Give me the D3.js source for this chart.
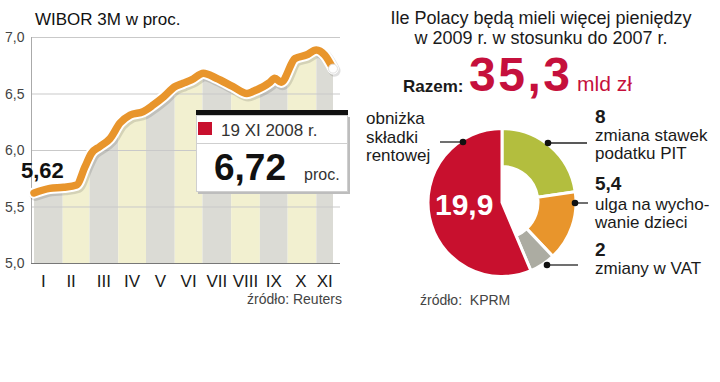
<!DOCTYPE html>
<html><head><meta charset="utf-8">
<script src="https://cdn.jsdelivr.net/npm/d3@7"></script>
<style>
html,body{margin:0;padding:0;background:#fff;}
svg{display:block;font-family:"Liberation Sans",Arial,sans-serif;}
</style></head>
<body>
<svg id="c" width="720" height="382"></svg>
<script>
// ---------- DATA ----------
const monthLabels = ["I","II","III","IV","V","VI","VII","VIII","IX","X","XI"];
const wiborDates = ["2008-01-01","2008-01-18","2008-02-02","2008-02-16","2008-02-25","2008-03-03",
  "2008-03-12","2008-03-23","2008-04-03","2008-04-14","2008-04-28","2008-05-09","2008-05-20",
  "2008-06-01","2008-06-10","2008-06-19","2008-07-02","2008-07-16","2008-08-03","2008-08-18",
  "2008-08-25","2008-09-12","2008-09-17","2008-09-24","2008-10-09","2008-10-21","2008-11-01",
  "2008-11-10","2008-11-19"];
const wiborValues = [5.62,5.66,5.67,5.69,5.85,5.97,6.03,6.10,6.24,6.31,6.34,6.40,6.47,
  6.56,6.59,6.62,6.68,6.635,6.56,6.50,6.52,6.60,6.635,6.60,6.81,6.84,6.885,6.84,6.72];
const yTicks = [5.0,5.5,6.0,6.5,7.0];
const startLabel = "5,62";
const lastDateLabel = "19 XI 2008 r.";
const lastValueLabel = "6,72";

const pieNames = ["zmiana stawek PIT","ulga na wychowanie dzieci","zmiany w VAT","obniżka składki rentowej"];
const pieValues = [8, 5.4, 2, 19.9];
const totalLabel = "35,3";

// ---------- LINE CHART ----------
const svg = d3.select("#c");
const parse = d3.timeParse("%Y-%m-%d");
const pts = wiborDates.map((d,i)=>({date:parse(d), v:wiborValues[i]}));
const t0 = pts[0].date, t1 = pts[pts.length-1].date;

const x = d3.scaleTime().domain([t0,t1]).range([34,333]);
const y = d3.scaleLinear().domain([5,7]).range([263,37]);

const g = svg.append("g");

const monthStarts = d3.timeMonth.range(d3.timeMonth.floor(t0), t1);
const cols = monthStarts.map((m,i)=>{
  const e = i<monthStarts.length-1 ? monthStarts[i+1] : t1;
  return {s:m, e:e, label:monthLabels[i], i:i};
});

const area = d3.area().x(d=>x(d.date)).y0(y(5)).y1(d=>y(d.v)).curve(d3.curveMonotoneX);
svg.append("defs").append("clipPath").attr("id","under")
  .append("path").attr("d", area(pts));

g.append("g").attr("clip-path","url(#under)")
  .selectAll("rect").data(cols).join("rect")
  .attr("x", d=>x(d.s)).attr("width", d=>x(d.e)-x(d.s))
  .attr("y", y(7.2)).attr("height", y(5)-y(7.2))
  .attr("fill", d=> d.i%2===0 ? "#dbdbd5" : "#f2f0d0");

g.selectAll("line.grid").data(yTicks.filter(v=>v>5)).join("line")
  .attr("x1",31).attr("x2",340).attr("y1",d=>y(d)+0.5).attr("y2",d=>y(d)+0.5)
  .attr("stroke","#c9c9c9").attr("stroke-width",1);
g.append("line").attr("x1",31).attr("x2",340).attr("y1",y(5)+0.5).attr("y2",y(5)+0.5)
  .attr("stroke","#777").attr("stroke-width",1.2);
g.append("line").attr("x1",31.5).attr("x2",31.5).attr("y1",y(7)).attr("y2",y(5))
  .attr("stroke","#aaa");

const fmt = v => d3.format(".1f")(v).replace(".",",");
g.selectAll("text.yt").data(yTicks).join("text")
  .attr("x",5).attr("y",d=>y(d)+5)
  .attr("font-size",14).attr("fill","#444").text(d=>fmt(d));

const nudge = [-5,-5,0,0,0,0,0,0,0,-1,0];
g.selectAll("text.m").data(cols).join("text")
  .attr("x", d=>(x(d.s)+x(d.e))/2 + nudge[d.i]).attr("y",287)
  .attr("text-anchor","middle").attr("font-size",17).attr("fill","#1a1a1a")
  .text(d=>d.label);

const line = d3.line().x(d=>x(d.date)).y(d=>y(d.v)).curve(d3.curveMonotoneX);
g.append("path").attr("d",line(pts)).attr("fill","none")
  .attr("stroke","#000").attr("stroke-opacity",0.12).attr("stroke-width",12)
  .attr("stroke-linecap","round").attr("stroke-linejoin","round")
  .attr("transform","translate(1.5,2)");
g.append("path").attr("d",line(pts)).attr("fill","none")
  .attr("stroke","#fff").attr("stroke-width",11.5)
  .attr("stroke-linecap","round").attr("stroke-linejoin","round");
g.append("path").attr("d",line(pts)).attr("fill","none")
  .attr("stroke","#e8952c").attr("stroke-width",7.5)
  .attr("stroke-linecap","round").attr("stroke-linejoin","round");
const last = pts[pts.length-1];
g.append("circle").attr("cx",x(last.date)).attr("cy",y(last.v)).attr("r",4.5)
  .attr("fill","#fff").attr("stroke","#e0e0e0").attr("stroke-width",1);

svg.append("text").attr("x",35).attr("y",25).attr("font-size",17).attr("fill","#111")
  .text("WIBOR 3M w proc.");
svg.append("text").attr("x",21).attr("y",178).attr("font-size",22).attr("font-weight","bold")
  .attr("fill","#111").text(startLabel);
svg.append("text").attr("x",342).attr("y",304).attr("text-anchor","end")
  .attr("font-size",14).attr("fill","#444").text("źródło: Reuters");

// info box
const bx = svg.append("g");
bx.append("rect").attr("x",198).attr("y",117).attr("width",152).attr("height",77).attr("fill","#bdbdbd");
bx.append("rect").attr("x",196.5).attr("y",115.5).attr("width",151).attr("height",76)
  .attr("fill","#fff").attr("stroke","#cfcfcf");
bx.append("rect").attr("x",196).attr("y",110).attr("width",152).attr("height",5).attr("fill","#111");
bx.append("rect").attr("x",198).attr("y",122).attr("width",14).attr("height",13).attr("fill","#c8102e");
bx.append("text").attr("x",221).attr("y",136).attr("font-size",17).attr("fill","#333").text(lastDateLabel);
bx.append("line").attr("x1",196).attr("x2",348).attr("y1",143.5).attr("y2",143.5).attr("stroke","#cfcfcf");
bx.append("text").attr("x",214).attr("y",180).attr("font-size",37).attr("font-weight","bold")
  .attr("fill","#111").text(lastValueLabel);
bx.append("text").attr("x",304).attr("y",180).attr("font-size",16).attr("fill","#333").text("proc.");

// ---------- DONUT ----------
svg.append("text").attr("x",541).attr("y",24).attr("text-anchor","middle").attr("font-size",18)
  .attr("fill","#1a1a1a").text("Ile Polacy będą mieli więcej pieniędzy");
svg.append("text").attr("x",541).attr("y",44).attr("text-anchor","middle").attr("font-size",18)
  .attr("fill","#1a1a1a").text("w 2009 r. w stosunku do 2007 r.");
svg.append("text").attr("x",403).attr("y",92).attr("font-size",17).attr("font-weight","bold")
  .attr("fill","#1a1a1a").text("Razem:");
svg.append("text").attr("x",469).attr("y",91).attr("font-size",48).attr("font-weight","bold")
  .attr("letter-spacing",2.5).attr("fill","#c5103c").text(totalLabel);
svg.append("text").attr("x",577).attr("y",91).attr("font-size",21)
  .attr("fill","#c5103c").text("mld zł");

const colors = ["#b3be3e","#e8952c","#acaca2","#c8102e"];
const cx = 502, cy = 202.5, R = 74, r0 = 36;
const pie = d3.pie().sort(null).value(d=>d)(pieValues);
const pg = svg.append("g").attr("transform",`translate(${cx},${cy})`);
pg.selectAll("path").data(pie).join("path")
  .attr("d", (d,i)=> d3.arc().innerRadius(i===3?0:r0).outerRadius(R)(d))
  .attr("fill",(d,i)=>colors[i]).attr("stroke","#fff").attr("stroke-width",3)
  .attr("stroke-linejoin","miter");

pg.append("text").attr("x",-67).attr("y",12.5).attr("font-size",30).attr("font-weight","bold")
  .attr("fill","#fff").text(d3.format(".1f")(pieValues[3]).replace(".",","));

const leaders = [
  {dx:-39, dy:-60.5, ex:-62},
  {dx:46, dy:-59.5, ex:85},
  {dx:73, dy:0.5, ex:86},
  {dx:45, dy:62.5, ex:76}
];
leaders.forEach(l=>{
  pg.append("line").attr("x1",l.dx).attr("x2",l.ex).attr("y1",l.dy).attr("y2",l.dy)
    .attr("stroke","#222").attr("stroke-width",1.3);
  pg.append("circle").attr("cx",l.dx).attr("cy",l.dy).attr("r",3.3).attr("fill","#111");
});

const lbl = (x0,y0,txt,bold)=>svg.append("text").attr("x",x0).attr("y",y0)
  .attr("font-size",bold?19:17).attr("font-weight",bold?"bold":"normal").attr("fill","#1a1a1a").text(txt);
lbl(366,124,"obniżka");
lbl(366,143,"składki");
lbl(366,161,"rentowej");
lbl(595,123,d3.format("d")(pieValues[0]),true);
lbl(595,141,"zmiana stawek");
lbl(595,159,"podatku PIT");
lbl(595,190,String(pieValues[1]).replace(".",","),true);
lbl(595,210,"ulga na wycho-");
lbl(595,228,"wanie dzieci");
lbl(595,256,String(pieValues[2]),true);
lbl(595,274,"zmiany w VAT");

svg.append("text").attr("x",420).attr("y",305).attr("font-size",14).attr("fill","#444")
  .style("white-space","pre").text("źródło:  KPRM");
</script>
</body></html>
